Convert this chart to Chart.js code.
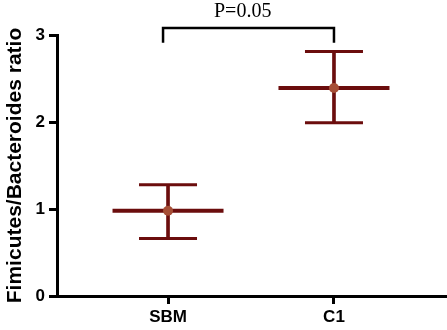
<!DOCTYPE html>
<html>
<head>
<meta charset="utf-8">
<script src="https://cdn.jsdelivr.net/npm/chart.js@4/dist/chart.umd.min.js"></script>
<style>
  html, body { margin: 0; padding: 0; background: #fff; }
  #wrap { width: 447px; height: 330px; }
</style>
</head>
<body>
<div id="wrap"><canvas id="chartF" width="447" height="330"></canvas></div>
<script>
// values
var groups = ['SBM', 'C1'];
var means = [0.98, 2.39];
var lower = [0.66, 1.99];
var upper = [1.28, 2.81];
var yTicks = [0, 1, 2, 3];
var pLabel = 'P=0.05';

var lineRed = '#6b0d0d';
var dotFill = '#a64e36';

var bracketY = [2.91, 3.08];
var bracketX = [-0.03, 1];

function pts(vals) {
  return vals.map(function (v, i) { return { x: i, y: v }; });
}

var pText = {
  id: 'pText',
  afterDatasetsDraw: function (chart) {
    var c = chart.ctx, xs = chart.scales.x, ys = chart.scales.y;
    c.save();
    c.font = '20px "Liberation Serif", "Times New Roman", serif';
    c.fillStyle = '#000';
    c.textAlign = 'center';
    c.textBaseline = 'alphabetic';
    c.fillText(pLabel, xs.getPixelForValue(0.45), ys.getPixelForValue(3.21));
    c.restore();
  }
};

var ctx = document.getElementById('chartF');
var chartF = new Chart(ctx, {
  type: 'scatter',
  data: {
    datasets: [{
      label: 'mean',
      data: pts(means),
      pointStyle: 'circle',
      pointRadius: 5,
      backgroundColor: dotFill,
      borderColor: dotFill,
      borderWidth: 0
    }, {
      label: 'meanLine',
      data: pts(means),
      pointStyle: 'line',
      pointRadius: 55.5,
      borderColor: lineRed,
      borderWidth: 4
    }, {
      label: 'caps',
      data: pts(lower).concat(pts(upper)),
      pointStyle: 'line',
      pointRadius: 29,
      borderColor: lineRed,
      borderWidth: 3
    }, {
      type: 'bar',
      label: 'range',
      data: groups.map(function (g, i) { return { x: i, y: [lower[i], upper[i]] }; }),
      backgroundColor: lineRed,
      borderWidth: 0,
      barThickness: 3
    }, {
      type: 'line',
      label: 'bracket',
      data: [
        { x: bracketX[0], y: bracketY[0] },
        { x: bracketX[0], y: bracketY[1] },
        { x: bracketX[1], y: bracketY[1] },
        { x: bracketX[1], y: bracketY[0] }
      ],
      borderColor: '#000',
      borderWidth: 2.5,
      pointRadius: 0,
      fill: false,
      tension: 0,
      clip: false
    }]
  },
  options: {
    responsive: false,
    animation: false,
    events: [],
    layout: { autoPadding: false, padding: { top: 35, right: 2, left: 0, bottom: 0 } },
    scales: {
      x: {
        type: 'linear',
        min: -0.669,
        max: 1.669,
        offset: false,
        afterBuildTicks: function (axis) {
          axis.ticks = groups.map(function (g, i) { return { value: i }; });
        },
        afterFit: function (axis) { axis.height = 34; },
        ticks: {
          callback: function (v) { return groups[v]; },
          color: '#000',
          font: { family: '"Liberation Sans", Arial, sans-serif', size: 17, weight: 'bold' },
          padding: 3,
          maxRotation: 0,
          autoSkip: false
        },
        grid: { offset: false, drawOnChartArea: false, drawTicks: true, tickLength: 8, color: '#000', lineWidth: 3 },
        border: { display: true, color: '#000', width: 3 }
      },
      y: {
        min: 0,
        max: 3,
        afterBuildTicks: function (axis) {
          axis.ticks = yTicks.map(function (v) { return { value: v }; });
        },
        afterFit: function (axis) { axis.width = 57; },
        ticks: {
          color: '#000',
          font: { family: '"Liberation Sans", Arial, sans-serif', size: 17, weight: 'bold' },
          padding: 4,
          autoSkip: false
        },
        title: {
          display: true,
          text: 'Fimicutes/Bacteroides ratio',
          color: '#000',
          font: { family: '"Liberation Sans", Arial, sans-serif', size: 21, weight: 'bold' },
          padding: { top: 3, bottom: 0 }
        },
        grid: { drawOnChartArea: false, drawTicks: true, tickLength: 8, color: '#000', lineWidth: 3 },
        border: { display: true, color: '#000', width: 3 }
      }
    },
    plugins: {
      legend: { display: false },
      tooltip: { enabled: false }
    }
  },
  plugins: [pText]
});
</script>
</body>
</html>
